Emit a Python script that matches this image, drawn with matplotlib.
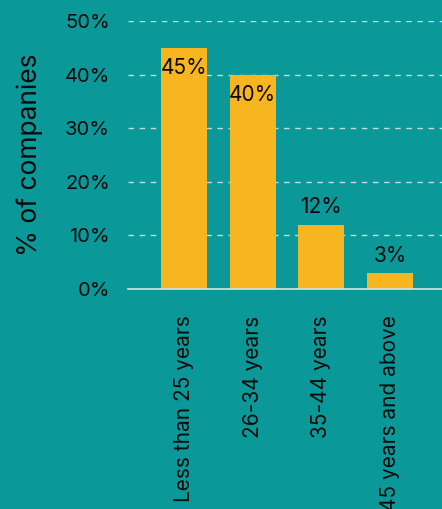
import matplotlib.pyplot as plt

# Datos
categorias = ['Less than 25 years', '26-34 years', '35-44 years', '45 years and above']
porcentajes = [45, 40, 12, 3]
etiquetas = ['45%', '40%', '12%', '3%']
ticks_y = [0, 10, 20, 30, 40, 50]
ticks_y_txt = ['0%', '10%', '20%', '30%', '40%', '50%']

fondo = '#0A9898'
amarillo = '#F7B520'
texto = '#0a0a0a'

plt.rcParams['font.family'] = ['Inter', 'DejaVu Sans']

fig = plt.figure(figsize=(4.42, 5.09), dpi=100, facecolor=fondo)
ax = fig.add_axes([0.29, 0.432, 0.71, 0.527], facecolor=fondo)

x = range(len(categorias))
barras = ax.bar(x, porcentajes, width=0.67, color=amarillo, zorder=3)

# Etiquetas: dentro de la barra si es alta, encima si es baja
for xi, v, t in zip(x, porcentajes, etiquetas):
    off = -14.5 if v > 20 else 12.5
    ax.annotate(t, (xi, v), xytext=(0, off), textcoords='offset points',
                ha='center', va='center', fontsize=15, color=texto, zorder=4)

ax.set_ylim(0, 50)
ax.set_xlim(-0.815, 3.757)
ax.set_yticks(ticks_y)
ax.set_yticklabels(ticks_y_txt, fontsize=14.5, color=texto)
ax.set_xticks(list(x))
# la última etiqueta queda cortada abajo, igual que en el original
ax.set_xticklabels(categorias, rotation=90, fontsize=15, color=texto, va='top')
ax.tick_params(axis='both', length=0)
ax.tick_params(axis='y', pad=13)
ax.tick_params(axis='x', pad=19)

ax.grid(axis='y', linestyle=(0, (4, 4)), color='#c4dcdc', linewidth=1, zorder=0)
for s in ['top', 'right', 'left']:
    ax.spines[s].set_visible(False)
ax.spines['bottom'].set_color('#d4e4e4')
ax.spines['bottom'].set_linewidth(1.2)
ax.spines['bottom'].set_zorder(5)

ax.set_ylabel('% of companies', fontsize=19, color=texto)
ax.yaxis.set_label_coords(-0.27, 0.5)

fig.savefig('out.png', dpi=100, facecolor=fondo)
plt.close()
